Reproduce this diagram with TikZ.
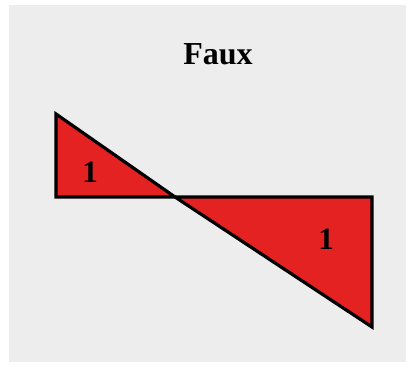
\documentclass[tikz,border=0pt]{standalone}
\usepackage{fontspec}
\setmainfont{Liberation Serif}
\usepackage{tikz}
\usetikzlibrary{positioning}
\usepackage{xcolor}
\definecolor{bgnoise}{HTML}{EDEDED}
\definecolor{triared}{HTML}{E52222}

\begin{document}
\begin{tikzpicture}[x=1pt,y=-1pt,line join=miter,
  tri/.style={draw=black,line width=3.2pt,fill=triared},
  lbl/.style={font=\fontsize{31}{31}\selectfont\bfseries,inner sep=0pt}]
\useasboundingbox (0,0) rectangle (412,372);
\fill[white] (0,0) rectangle (412,372);
\fill[bgnoise] (9,5) rectangle (406,362);
\coordinate (tl) at (56,114);
\coordinate (bl) at (56,197);
\coordinate (mid) at (175,197);
\coordinate (tr) at (372,197);
\coordinate (br) at (372,327);
\draw[tri] (tl) -- (bl) -- (mid) -- cycle;
\draw[tri] (mid) -- (tr) -- (br) -- cycle;
\node[font=\fontsize{32}{32}\selectfont\bfseries] (title) at (218,54) {Faux};
\node[lbl] (one1) at (90,172) {1};
\node[lbl] (one2) at (326,239) {1};
\end{tikzpicture}
\end{document}
